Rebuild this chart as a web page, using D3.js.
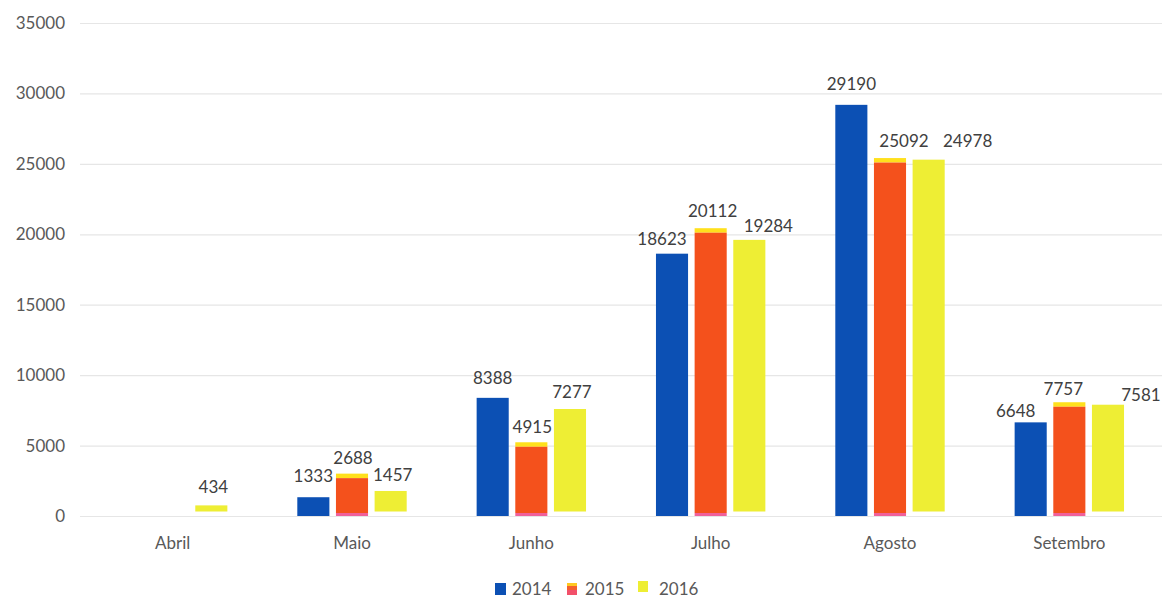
<!DOCTYPE html>
<html>
<head>
<meta charset="utf-8">
<script src="https://cdn.jsdelivr.net/npm/d3@7/dist/d3.min.js"></script>
<style>
  html, body { margin: 0; padding: 0; background: #ffffff; }
  svg { display: block; font-family: Lato, "Open Sans", sans-serif; }
</style>
</head>
<body>
<svg id="chart" width="1162" height="598"></svg>
<script>
// Monthly totals per year
const categories = ["Abril", "Maio", "Junho", "Julho", "Agosto", "Setembro"];
const series = ["2014", "2015", "2016"];
const values2014 = [null, 1333, 8388, 18623, 29190, 6648];
const values2015 = [null, 2688, 4915, 20112, 25092, 7757];
const values2016 = [434, 1457, 7277, 19284, 24978, 7581];
const yTicks = [0, 5000, 10000, 15000, 20000, 25000, 30000, 35000];

// Hand placement of the value labels, [dx, dy] in pixels per series and month
const labelNudge = {
  "2014": [[0, 0], [0, -1], [0, 0], [-10, 5], [0, -1], [-15, 9]],
  "2015": [[0, 0], [1, 0], [1, 0], [2, -2], [14, -2], [-6, 2]],
  "2016": [[2, -3], [2, 0], [2, -1], [19, 2], [39, -3], [33, 6]]
};

const colors = { "2014": "#0c50b4", "2015": "#f4511c", "2016": "#eeee34" };
const inkYellow = "#ffe01c";   // yellow ink visible above the orange bars
const inkPink = "#f0609a";     // magenta ink visible under the orange bars
const shift = 4.5;             // vertical offset of the yellow ink layer
const pinkBand = 3;            // height of the magenta band under orange bars

const svg = d3.select("#chart");
const plotLeft = 80, plotRight = 1162;
const y0 = 516, yTop = 23;

const y = d3.scaleLinear().domain([0, 35000]).range([y0, yTop]);
const x0 = d3.scaleBand().domain(categories).range([83, 1159])
  .paddingInner(0.39).paddingOuter(0.195);
const x1 = d3.scaleBand().domain(series).range([0, x0.bandwidth()])
  .paddingInner(0.17).paddingOuter(0);

const valuesBySeries = { "2014": values2014, "2015": values2015, "2016": values2016 };

// Gridlines and y tick labels
const yAxis = svg.append("g")
  .attr("transform", `translate(${plotLeft},0)`)
  .call(d3.axisLeft(y).tickValues(yTicks).tickFormat(d3.format("d"))
    .tickSize(-(plotRight - plotLeft)).tickPadding(15));
yAxis.select(".domain").remove();
yAxis.selectAll(".tick line").attr("stroke", "#e6e6e6").attr("stroke-width", 1.2);
yAxis.selectAll(".tick text").attr("fill", "#595959").style("font-size", "17px")
  .style("font-family", "Lato, 'Open Sans', sans-serif");

// Category labels
const xAxis = svg.append("g")
  .attr("transform", `translate(0,${y0})`)
  .call(d3.axisBottom(x0).tickSize(0).tickPadding(0));
xAxis.select(".domain").remove();
xAxis.selectAll(".tick text").attr("fill", "#595959").attr("y", 27).attr("dy", "0.35em")
  .style("font-size", "17px").style("font-family", "Lato, 'Open Sans', sans-serif");

// Bars
const rows = [];
series.forEach(s => {
  valuesBySeries[s].forEach((v, i) => {
    if (v != null) rows.push({ s, i, cat: categories[i], v });
  });
});

const bars = svg.append("g");
rows.forEach(d => {
  const bx = x0(d.cat) + x1(d.s);
  const bw = x1.bandwidth();
  const top = y(d.v);
  if (d.s === "2014") {
    bars.append("rect").attr("x", bx).attr("y", top).attr("width", bw)
      .attr("height", y0 - top).attr("fill", colors[d.s]);
  } else if (d.s === "2015") {
    bars.append("rect").attr("x", bx).attr("y", top - shift).attr("width", bw)
      .attr("height", shift).attr("fill", inkYellow);
    bars.append("rect").attr("x", bx).attr("y", y0 - pinkBand).attr("width", bw)
      .attr("height", pinkBand).attr("fill", inkPink);
    bars.append("rect").attr("x", bx).attr("y", top).attr("width", bw)
      .attr("height", Math.max(0, y0 - pinkBand - top)).attr("fill", colors[d.s]);
  } else {
    bars.append("rect").attr("x", bx).attr("y", top - shift).attr("width", bw)
      .attr("height", y0 - top).attr("fill", colors[d.s]);
  }
});

// Value labels
svg.append("g").selectAll("text").data(rows).join("text")
  .attr("x", d => x0(d.cat) + x1(d.s) + x1.bandwidth() / 2 + labelNudge[d.s][d.i][0])
  .attr("y", d => y(d.v) - 14 + labelNudge[d.s][d.i][1])
  .attr("text-anchor", "middle")
  .attr("fill", "#404040")
  .style("font-size", "17px")
  .text(d => d.v);

// Legend
const legend = svg.append("g");
const legendX = [495, 567, 638];
const legendTextX = [512, 585, 659];
series.forEach((s, k) => {
  const lx = legendX[k];
  if (s === "2015") {
    legend.append("rect").attr("x", lx).attr("y", 583).attr("width", 10).attr("height", 12).attr("fill", "#f2506a");
    legend.append("rect").attr("x", lx).attr("y", 583).attr("width", 10).attr("height", 4).attr("fill", "#ffc820");
    legend.append("rect").attr("x", lx).attr("y", 586).attr("width", 10).attr("height", 4).attr("fill", "#f4602c");
  } else if (s === "2016") {
    legend.append("rect").attr("x", lx).attr("y", 581).attr("width", 10).attr("height", 11).attr("fill", colors[s]);
  } else {
    legend.append("rect").attr("x", lx).attr("y", 583).attr("width", 11).attr("height", 12).attr("fill", colors[s]);
  }
  legend.append("text").attr("x", legendTextX[k]).attr("y", 595)
    .attr("fill", "#595959").style("font-size", "17px").text(s);
});
</script>
</body>
</html>
